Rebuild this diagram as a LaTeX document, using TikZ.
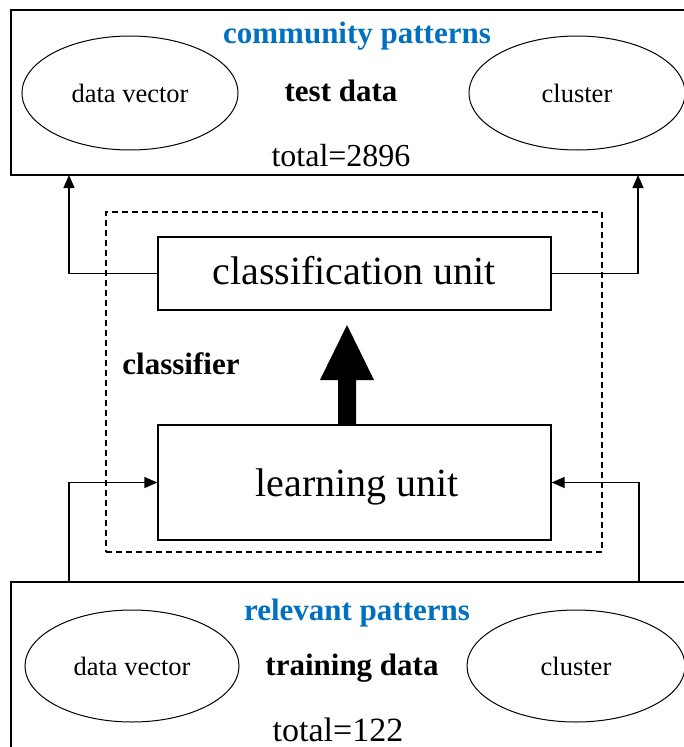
\documentclass[tikz,border=0pt]{standalone}
\usepackage{fontspec}
\setmainfont{Liberation Serif}
\usetikzlibrary{shapes.geometric,arrows.meta}
\definecolor{hdrblue}{RGB}{0,112,192}
\tikzset{
  box/.style={draw, line width=1.3pt, rectangle, inner sep=0pt},
  oval/.style={draw, line width=1pt, ellipse, inner sep=0pt, minimum width=216pt, minimum height=114pt, font=\fontsize{26.5}{30}\selectfont},
  conn/.style={line width=1.3pt, -{Triangle[length=13pt,width=11pt]}},
  hdr/.style={anchor=base, text=hdrblue, font=\fontsize{31}{34}\selectfont\bfseries},
  lbl/.style={anchor=base, font=\fontsize{31}{34}\selectfont\bfseries},
  tot/.style={anchor=base, font=\fontsize{32}{34}\selectfont},
  unit/.style={anchor=base, font=\fontsize{40}{44}\selectfont},
}
\begin{document}
\begin{tikzpicture}[x=1pt,y=-1pt]
\useasboundingbox (0,0) rectangle (684,747);
\clip (0,0) rectangle (684,747);
\fill[white] (0,0) rectangle (684,747);
% top box
\node[box, minimum width=677pt, minimum height=165pt] (top) at (349.5,92.5) {};
\node[oval] (tdv) at (130,93) {data vector};
\node[oval] (tcl) at (577,93) {cluster};
\node[hdr] (thdr) at (357,43) {community patterns};
\node[lbl] (tlbl) at (341,101) {test data};
\node[tot] (ttot) at (341,166) {total=2896};
% classifier
\node[box, dashed, line width=1.2pt, dash pattern=on 6pt off 4pt, minimum width=496pt, minimum height=340pt] (clf) at (354,382) {};
\node[lbl] (clflbl) at (181,374) {classifier};
\node[box, minimum width=393pt, minimum height=73pt] (cu) at (354.5,273.5) {};
\node[unit] (cut) at (354,284) {classification unit};
\node[box, minimum width=393pt, minimum height=115pt] (lu) at (354.5,482.5) {};
\node[unit] (lut) at (357,496) {learning unit};
% bottom box
\node[box, minimum width=677pt, minimum height=178pt] (bot) at (349.5,671) {};
\node[oval, minimum width=214pt, minimum height=112pt] (bdv) at (132,666) {data vector};
\node[oval, minimum width=218pt, minimum height=112pt] (bcl) at (576,666) {cluster};
\node[hdr] (bhdr) at (357,620) {relevant patterns};
\node[lbl] (blbl) at (352,675) {training data};
\node[tot, font=\fontsize{34}{36}\selectfont] (btot) at (338,741) {total=122};
% thick arrow
\fill (338,425) -- (338,380) -- (320,380) -- (347,325) -- (374,380) -- (356,380) -- (356,425) -- cycle;
% connectors
\draw[conn] (cu.west) -| (69,175);
\draw[conn] (cu.east) -| (638,175);
\draw[conn] (69,582) |- (lu.west);
\draw[conn] (639,582) |- (lu.east);
\end{tikzpicture}
\end{document}
